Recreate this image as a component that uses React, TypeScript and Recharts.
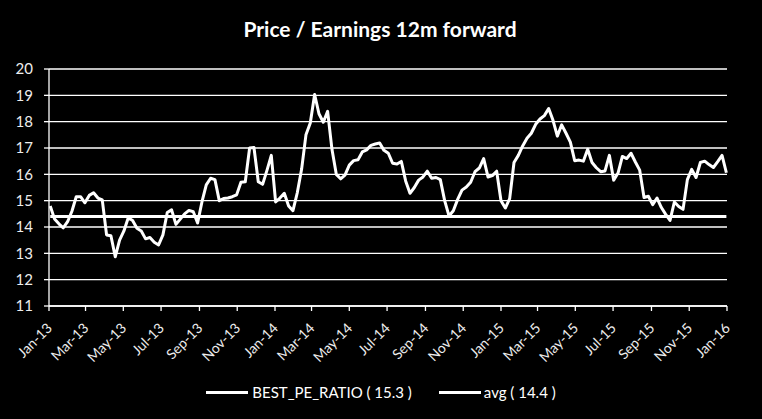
import React from 'react';
import { LineChart, Line, XAxis, YAxis, CartesianGrid, Legend } from 'recharts';

const TITLE = 'Price / Earnings 12m forward';
const SERIES_NAME = 'BEST_PE_RATIO';
const SERIES_MEAN = 15.3;
const AVG_NAME = 'avg';
const AVG_VALUE = 14.4;

// weekly observations, first one on this date
const FIRST_WEEK = '2013-01-03';
const PE_VALUES = [
  14.8, 14.3, 14.12, 13.97, 14.2, 14.6, 15.15, 15.15, 14.92, 15.2, 15.3,
  15.1, 15.03, 13.7, 13.67, 12.87, 13.5, 13.85, 14.35, 14.25, 13.95,
  13.85, 13.55, 13.6, 13.42, 13.32, 13.7, 14.55, 14.65, 14.1, 14.3,
  14.5, 14.63, 14.58, 14.15, 14.95, 15.6, 15.85, 15.8, 15.0, 15.08,
  15.1, 15.15, 15.22, 15.7, 15.72, 17.0, 17.02, 15.72, 15.62, 16.15,
  16.72, 14.95, 15.1, 15.28, 14.8, 14.62, 15.3, 16.2, 17.5, 17.95,
  19.03, 18.3, 17.98, 18.39, 16.95, 16.0, 15.83, 15.97, 16.35, 16.52,
  16.55, 16.85, 16.93, 17.1, 17.15, 17.19, 16.91, 16.8, 16.42, 16.39,
  16.49, 15.75, 15.28, 15.5, 15.78, 15.9, 16.12, 15.85, 15.88, 15.8,
  15.0, 14.42, 14.62, 15.05, 15.4, 15.52, 15.7, 16.1, 16.24, 16.6,
  15.9, 15.95, 16.12, 15.0, 14.72, 15.08, 16.45, 16.72, 17.08, 17.37,
  17.56, 17.9, 18.1, 18.23, 18.5, 18.05, 17.45, 17.88, 17.56, 17.22,
  16.52, 16.54, 16.5, 16.95, 16.45, 16.25, 16.1, 16.13, 16.72, 15.78,
  16.05, 16.68, 16.6, 16.8, 16.47, 16.16, 15.12, 15.17, 14.85, 15.1,
  14.74, 14.48, 14.25, 14.95, 14.78, 14.67, 15.8, 16.19, 15.88, 16.45,
  16.5, 16.37, 16.26, 16.48, 16.72, 16.06,
];

const TICK_DATES = [
  '2013-01-01', '2013-03-01', '2013-05-01', '2013-07-01', '2013-09-01', '2013-11-01',
  '2014-01-01', '2014-03-01', '2014-05-01', '2014-07-01', '2014-09-01', '2014-11-01',
  '2015-01-01', '2015-03-01', '2015-05-01', '2015-07-01', '2015-09-01', '2015-11-01',
  '2016-01-01',
];
const TICK_LABELS = [
  'Jan-13', 'Mar-13', 'May-13', 'Jul-13', 'Sep-13', 'Nov-13',
  'Jan-14', 'Mar-14', 'May-14', 'Jul-14', 'Sep-14', 'Nov-14',
  'Jan-15', 'Mar-15', 'May-15', 'Jul-15', 'Sep-15', 'Nov-15',
  'Jan-16',
];
const Y_TICKS = [11, 12, 13, 14, 15, 16, 17, 18, 19, 20];

const DAY_MS = 86400000;
const ORIGIN = Date.parse('2013-01-01T00:00:00Z');
const toDay = (s: string) => (Date.parse(s + 'T00:00:00Z') - ORIGIN) / DAY_MS;
const firstDay = toDay(FIRST_WEEK);
const tickDays = TICK_DATES.map(toDay);

const data = PE_VALUES.map((v, i) => ({ day: firstDay + 7 * i, pe: v, avg: AVG_VALUE }));

const FONT = 'Lato, "Open Sans", sans-serif';
const TEXT = '#ededed';

const XTick = (props: any) => {
  const { x, y, payload } = props;
  const idx = tickDays.indexOf(payload.value);
  return (
    <g transform={`translate(${x + 4},${y + 16})`}>
      <text textAnchor="end" transform="rotate(-45)" fill={TEXT} fontSize={14} fontFamily={FONT}>
        {TICK_LABELS[idx]}
      </text>
    </g>
  );
};

const LegendContent = () => (
  <div
    style={{
      display: 'flex',
      justifyContent: 'center',
      alignItems: 'center',
      gap: 27,
      fontFamily: FONT,
      fontSize: 15,
      color: '#fff',
      lineHeight: '20px',
    }}
  >
    <span style={{ display: 'flex', alignItems: 'center' }}>
      <span style={{ display: 'inline-block', width: 42, height: 3, background: '#fff', marginRight: 4 }} />
      {`${SERIES_NAME} ( ${SERIES_MEAN} )`}
    </span>
    <span style={{ display: 'flex', alignItems: 'center' }}>
      <span style={{ display: 'inline-block', width: 42, height: 3, background: '#fff', marginRight: 3 }} />
      {`${AVG_NAME} ( ${AVG_VALUE} )`}
    </span>
  </div>
);

export default function App() {
  return (
    <div style={{ position: 'absolute', left: 0, top: 0, width: 762, height: 419, background: '#000' }}>
      <LineChart width={762} height={419} data={data} margin={{ top: 69, right: 35, left: 0, bottom: 0 }}>
        <CartesianGrid vertical={false} stroke="#ffffff" strokeWidth={1.3} />
        <XAxis
          dataKey="day"
          type="number"
          domain={[0, tickDays[tickDays.length - 1]]}
          ticks={tickDays}
          interval={0}
          height={113}
          stroke="#ffffff"
          strokeWidth={1.3}
          tickSize={5}
          tick={<XTick />}
        />
        <YAxis
          domain={[11, 20]}
          ticks={Y_TICKS}
          interval={0}
          width={49}
          stroke="#ffffff"
          strokeWidth={1.3}
          tickSize={5}
          tickMargin={11}
          tick={{ fill: TEXT, fontSize: 15, fontFamily: FONT }}
        />
        <Line
          dataKey="avg"
          name={AVG_NAME}
          stroke="#ffffff"
          strokeWidth={3}
          dot={false}
          isAnimationActive={false}
        />
        <Line
          dataKey="pe"
          name={SERIES_NAME}
          stroke="#ffffff"
          strokeWidth={3}
          strokeLinejoin="round"
          dot={false}
          isAnimationActive={false}
        />
        <Legend
          verticalAlign="middle"
          align="center"
          layout="horizontal"
          content={<LegendContent />}
          wrapperStyle={{ top: 382, left: 0, width: 762 }}
        />
      </LineChart>
      <svg
        width={762}
        height={60}
        style={{ position: 'absolute', left: 0, top: 0, pointerEvents: 'none' }}
      >
        <text x={380} y={37} textAnchor="middle" fill="#ffffff" fontSize={21} fontWeight="bold" fontFamily={FONT}>
          {TITLE}
        </text>
      </svg>
    </div>
  );
}
